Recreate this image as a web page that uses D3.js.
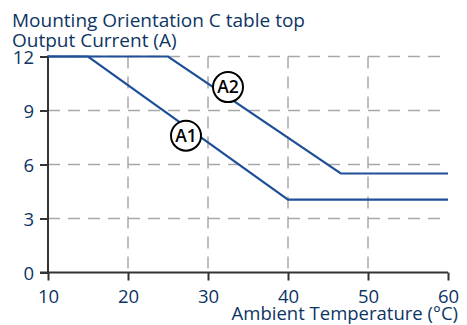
<!DOCTYPE html>
<html><head><meta charset="utf-8">
<script src="https://cdn.jsdelivr.net/npm/d3@7"></script>
<style>body{margin:0;background:#fff}svg{display:block}text{font-family:"Open Sans","Noto Sans",sans-serif}</style>
</head><body><svg id="c" width="467" height="325"></svg>
<script>
const xTicks = [10, 20, 30, 40, 50, 60];
const yTicks = [0, 3, 6, 9, 12];
const a1Temp = [10, 15, 40, 60];
const a1Curr = [12, 12, 4.05, 4.05];
const a2Temp = [10, 25, 46.6, 60];
const a2Curr = [12, 12, 5.5, 5.5];
const labels = ["A1", "A2"];
const labelPos = [[27.25, 7.6], [32.5, 10.3]];
const title1 = "Mounting Orientation C table top";
const title2 = "Output Current (A)";
const xTitle = "Ambient Temperature (°C)";

const svg = d3.select("#c");
const x = d3.scaleLinear().domain([10, 60]).range([48, 448]);
const y = d3.scaleLinear().domain([0, 12]).range([272.5, 56.5]);
const navy = "#0d3563";
const grid = "#a8a8a8";
const blue = "#1f4f99";

// grid
const gg = svg.append("g");
xTicks.slice(1, 5).forEach(t => gg.append("line").attr("x1", x(t)).attr("x2", x(t)).attr("y1", y(12)).attr("y2", y(0))
  .attr("stroke", grid).attr("stroke-width", 1.5).attr("stroke-dasharray", "12,8"));
yTicks.slice(1).forEach(t => gg.append("line").attr("x1", x(10)).attr("x2", x(60)).attr("y1", y(t)).attr("y2", y(t))
  .attr("stroke", grid).attr("stroke-width", 1.5).attr("stroke-dasharray", "12,8"));

// axes
const xa = svg.append("g").attr("transform", `translate(0,${y(0)})`)
  .call(d3.axisBottom(x).tickValues(xTicks).tickSize(8).tickSizeOuter(0).tickPadding(4));
const ya = svg.append("g").attr("transform", `translate(${x(10)},0)`)
  .call(d3.axisLeft(y).tickValues(yTicks).tickSize(8).tickSizeOuter(0).tickPadding(6));
[xa, ya].forEach(a => {
  a.select(".domain").attr("stroke", "#333").attr("stroke-width", 2);
  a.selectAll(".tick line").attr("stroke", "#333").attr("stroke-width", 2);
  a.selectAll(".tick text").attr("fill", navy).style("font-size", "18.5px").style("font-family", '"Open Sans","Noto Sans",sans-serif');
});
ya.select(".domain").attr("d", `M0,${y(12)-1}V${y(0)+1}`);
xa.select(".domain").attr("d", `M${x(10)-8},0H${x(60)}`);
ya.selectAll(".tick text").attr("dy", "0.36em");
xa.selectAll(".tick text").attr("y", 30.5).attr("dy", 0);

// lines
const line = d3.line().x(d => x(d[0])).y(d => y(d[1]));
[[a1Temp, a1Curr], [a2Temp, a2Curr]].forEach(([t, c]) => {
  svg.append("path").datum(t.map((v, i) => [v, c[i]])).attr("d", line)
    .attr("fill", "none").attr("stroke", blue).attr("stroke-width", 2.2);
});

// labels
labels.forEach((l, i) => {
  const g = svg.append("g").attr("transform", `translate(${x(labelPos[i][0])},${y(labelPos[i][1])})`);
  g.append("circle").attr("r", 15).attr("fill", "#fff").attr("stroke", "#000").attr("stroke-width", 2);
  g.append("text").text(l).attr("text-anchor", "middle").attr("dy", "0.36em")
    .style("font-size", "17.5px").style("font-weight", "600").attr("fill", "#000");
});

// titles
svg.append("text").attr("x", 12).attr("y", 27).text(title1).attr("fill", navy).style("font-size", "19px");
svg.append("text").attr("x", 12).attr("y", 47).text(title2).attr("fill", navy).style("font-size", "19px");
svg.append("text").attr("x", 458).attr("y", 320).attr("text-anchor", "end").text(xTitle).attr("fill", navy).style("font-size", "18.5px");
</script></body></html>
